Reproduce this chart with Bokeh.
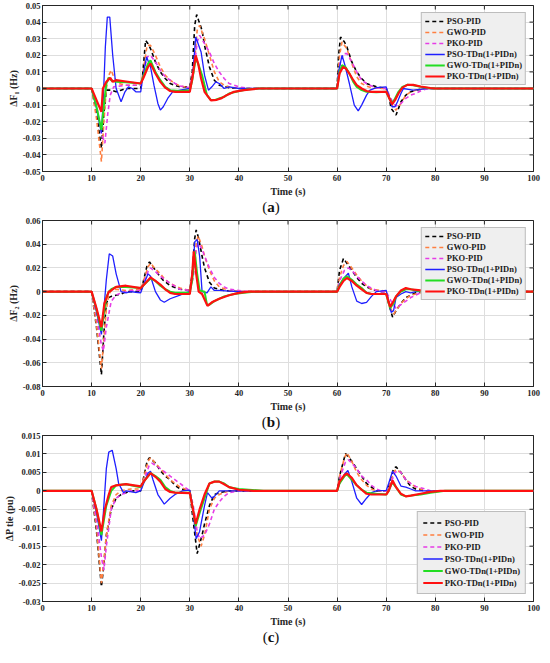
import math
from bokeh.plotting import figure
from bokeh.models import Range1d, FixedTicker, CustomJSTickFormatter, Div
from bokeh.layouts import column
from bokeh.embed import file_html
from bokeh.resources import INLINE

FONT = "Liberation Serif"

# ---------------- data ----------------
X_TICKS = [0, 10, 20, 30, 40, 50, 60, 70, 80, 90, 100]
A_TICKS = [-0.05, -0.04, -0.03, -0.02, -0.01, 0, 0.01, 0.02, 0.03, 0.04, 0.05]
B_TICKS = [-0.08, -0.06, -0.04, -0.02, 0, 0.02, 0.04, 0.06]
C_TICKS = [-0.03, -0.025, -0.02, -0.015, -0.01, -0.005, 0, 0.005, 0.01, 0.015]

NAMES = ["PSO-PID", "GWO-PID", "PKO-PID", "PSO-TDn(1+PIDn)", "GWO-TDn(1+PIDn)", "PKO-TDn(1+PIDn)"]

# Panel (a): delta F1 (Hz), (time, value)
A_PSO_PID = [(0,0),(10,0),(11,-0.015),(12,-0.036),(12.5,-0.015),(13,-0.001),(14,-0.001),(15,-0.002),(16,-0.001),(17,0),(20,0),(20.3,0.005),(21,0.029),(21.5,0.027),(22,0.024),(23,0.016),(24,0.01),(25,0.006),(26,0.003),(27,0.0018),(28,0.001),(30,0.001),(30.5,0.01),(31,0.038),(31.4,0.0445),(31.8,0.041),(32.5,0.035),(33,0.026),(34,0.013),(35,0.005),(36,0.002),(38,0.0005),(40,0),(60,0),(60.3,0.02),(60.7,0.031),(61.5,0.028),(62,0.025),(63,0.016),(64,0.01),(65,0.006),(66,0.003),(67,0.002),(68,0.001),(70,0),(70.5,-0.004),(71,-0.012),(72,-0.016),(73,-0.008),(74,-0.004),(75,-0.002),(76,-0.001),(78,0),(100,0)]
A_GWO_PID = [(0,0),(10,0),(11,-0.018),(12,-0.044),(12.5,-0.02),(13,0),(13.5,0.008),(14,0.011),(14.5,0.007),(15.5,0.003),(17,0.002),(20,0.002),(20.5,0.01),(21.3,0.026),(22,0.026),(23,0.02),(24,0.013),(25,0.008),(26,0.005),(27,0.003),(28,0.0015),(30,0.0005),(30.8,0.01),(31.5,0.035),(32,0.038),(33,0.03),(34,0.02),(35,0.01),(36,0.004),(37,0.002),(38,0.001),(40,0),(60,0),(60.5,0.02),(61,0.028),(62,0.024),(63,0.015),(64,0.007),(65,0.003),(66,0.0015),(67,0.0005),(69,0),(70,0),(70.7,-0.006),(71.3,-0.011),(72,-0.013),(73,-0.009),(74,-0.004),(75,-0.002),(76,-0.001),(78,0),(100,0)]
A_PKO_PID = [(0,0),(10,0),(11,-0.01),(12,-0.027),(12.7,-0.033),(13.3,-0.015),(13.8,-0.004),(14.5,0.001),(17,0.002),(20,0.002),(20.5,0.008),(21.3,0.019),(22,0.02),(23,0.016),(24,0.011),(25,0.007),(26,0.005),(27,0.003),(28,0.0015),(29,0.001),(30,0.0005),(31,0.015),(31.5,0.028),(32,0.032),(33,0.027),(34,0.022),(35,0.015),(36,0.01),(37,0.006),(38,0.003),(40,0.001),(42,0),(60,0),(60.6,0.015),(61.3,0.021),(62,0.021),(63,0.016),(64,0.01),(65,0.005),(66,0.003),(67,0.0015),(68,0.0005),(69,0),(70,0),(70.8,-0.005),(71.5,-0.009),(72,-0.0105),(73,-0.009),(74,-0.006),(75,-0.004),(76,-0.003),(77,-0.0015),(78,-0.0005),(79,0),(100,0)]
A_PSO_TDN = [(0,0),(10,0),(11,-0.012),(12,-0.027),(12.4,-0.005),(12.8,0.025),(13.2,0.043),(13.7,0.043),(14.3,0.02),(15,0),(16,-0.008),(16.8,-0.002),(17.5,0.001),(18.3,0),(19,-0.002),(20,-0.002),(20.5,0.008),(21.2,0.019),(22,0.013),(22.7,0.002),(23.5,-0.009),(24,-0.013),(24.6,-0.011),(25.5,-0.006),(26.5,-0.002),(28,-0.001),(30,0),(30.5,0.005),(31.2,0.031),(31.7,0.027),(32.3,0.022),(33,0.008),(33.8,-0.001),(34.5,0.001),(35.3,0.004),(36,0.003),(37,0),(38,0.001),(40,0),(60,0),(60.3,0.01),(61,0.02),(61.6,0.014),(62.5,0.003),(63.5,-0.01),(64.3,-0.0135),(65,-0.01),(66,-0.004),(66.7,-0.001),(68,0.0005),(70,0.001),(70.5,-0.004),(71.2,-0.011),(71.8,-0.011),(72.3,-0.008),(73,-0.003),(73.5,0),(74.5,-0.0005),(75.5,-0.001),(77,-0.0005),(78,0),(100,0)]
A_GWO_TDN = [(0,0),(10,0),(11,-0.011),(12,-0.025),(12.5,-0.01),(13,0.003),(13.5,0.0065),(14,0.005),(15,0.004),(17,0.0038),(20,0.003),(20.5,0.007),(21.5,0.015),(22,0.017),(23,0.01),(24,0.005),(25,0.001),(26,-0.001),(28,-0.0015),(30,-0.001),(30.5,0.005),(31.2,0.018),(31.7,0.015),(32.5,0.008),(33.5,-0.004),(34.3,-0.007),(35,-0.007),(36,-0.006),(37,-0.005),(38,-0.003),(40,-0.0015),(42,-0.0005),(44,0),(60,0),(60.5,0.01),(61,0.014),(61.7,0.013),(62.5,0.009),(63.3,0.004),(64,0.001),(65,-0.001),(66,-0.002),(68,-0.0022),(70,-0.002),(70.5,-0.005),(71.2,-0.009),(71.8,-0.006),(72.5,-0.002),(73.3,0.001),(74.3,0.0022),(75.5,0.002),(77,0.001),(78.5,0.0003),(80,0),(100,0)]
A_PKO_TDN = [(0,0),(10,0),(11,-0.007),(12,-0.014),(12.3,0),(13,0.004),(13.8,0.0065),(14.3,0.004),(15,0.005),(17,0.0042),(20,0.003),(20.5,0.006),(21.5,0.013),(22,0.015),(23,0.009),(24,0.004),(25,0.0005),(26,-0.0015),(27,-0.002),(30,-0.002),(30.5,0.006),(31.2,0.02),(31.7,0.015),(32.3,0.006),(33,-0.002),(34.3,-0.0072),(35.5,-0.0068),(36.5,-0.0058),(37.5,-0.004),(39,-0.002),(41,-0.001),(44,0),(60,0),(60.5,0.009),(61.2,0.013),(61.8,0.012),(62.5,0.009),(63.3,0.005),(64,0.002),(65,0),(66,-0.0015),(67,-0.002),(70,-0.002),(70.5,-0.005),(71.2,-0.0095),(71.8,-0.007),(72.5,-0.003),(73.3,0.0005),(74.3,0.0022),(75.5,0.0022),(77,0.0012),(79,0.0003),(80,0),(100,0)]

# Panel (b): delta F2 (Hz)
B_PSO_PID = [(0,0),(10,0),(11,-0.03),(12,-0.07),(12.5,-0.035),(13,-0.01),(13.5,-0.005),(14,-0.004),(15,-0.003),(16,-0.002),(17,0),(20,0),(20.5,0.008),(21.3,0.022),(21.8,0.025),(22.5,0.021),(23.5,0.015),(24.5,0.01),(26,0.005),(28,0.002),(30,0.001),(30.5,0.015),(31,0.045),(31.3,0.052),(31.8,0.045),(32.5,0.03),(33,0.02),(34,0.008),(35,0.003),(37,0.001),(40,0),(60,0),(60.5,0.018),(61.3,0.028),(62,0.024),(63,0.018),(64,0.012),(65,0.007),(66,0.004),(67,0.002),(68,0.001),(69,0),(70,0),(70.5,-0.01),(71.3,-0.0215),(72,-0.016),(73,-0.01),(74,-0.005),(75,-0.003),(76,-0.001),(78,0),(100,0)]
B_GWO_PID = [(0,0),(10,0),(11,-0.028),(12,-0.065),(12.5,-0.04),(13,-0.015),(13.5,-0.003),(14,0.001),(15,0.002),(17,0.001),(20,0.002),(20.5,0.008),(21.5,0.021),(22,0.024),(23,0.019),(24,0.015),(25,0.01),(26,0.007),(28,0.003),(30,0.001),(30.7,0.015),(31.3,0.04),(31.7,0.047),(32.5,0.038),(33,0.03),(34,0.018),(35,0.009),(36,0.004),(38,0.001),(40,0),(60,0),(60.5,0.012),(61.3,0.022),(62,0.0255),(63,0.02),(64,0.014),(65,0.009),(66,0.005),(67,0.002),(69,0.001),(70,0),(70.5,-0.007),(71,-0.015),(71.5,-0.019),(72,-0.016),(73,-0.01),(74,-0.006),(75,-0.003),(77,-0.001),(78,0),(100,0)]
B_PKO_PID = [(0,0),(10,0),(11,-0.02),(12,-0.045),(12.4,-0.05),(13,-0.03),(14,-0.008),(15,-0.003),(16,-0.001),(18,0.001),(20,0.001),(20.6,0.007),(21.5,0.017),(22,0.02),(23,0.017),(24,0.013),(26,0.007),(28,0.002),(30,0.001),(30.7,0.012),(31.3,0.035),(31.7,0.041),(32.5,0.036),(33,0.03),(34,0.02),(35,0.012),(36,0.007),(37,0.004),(38,0.002),(40,0.001),(42,0),(60,0),(60.6,0.01),(61.5,0.018),(62.3,0.02),(63,0.018),(64,0.013),(65,0.009),(66,0.005),(67,0.003),(68,0.001),(69,0),(70,0),(71,-0.008),(72,-0.014),(73,-0.011),(74,-0.008),(75,-0.005),(76,-0.003),(77,-0.001),(78,0),(100,0)]
B_PSO_TDN = [(0,0),(10,0),(11,-0.017),(12,-0.036),(12.5,-0.015),(13,0.01),(13.6,0.032),(14.3,0.03),(15,0.015),(16,0),(17,-0.001),(18,0),(19,-0.0005),(20,-0.001),(20.6,0.006),(21.5,0.015),(22,0.013),(23,0),(24,-0.007),(24.8,-0.009),(26,-0.006),(28,-0.003),(29,-0.001),(30,0),(30.5,0.01),(31,0.042),(31.5,0.044),(32,0.03),(32.5,0),(33.5,-0.001),(34.3,0.004),(35,0.001),(36,0.001),(38,0.0005),(40,0),(60,0),(60.5,0.006),(61.5,0.012),(62.3,0.0155),(63,0.004),(64,-0.008),(65,-0.01),(66,-0.009),(67,-0.004),(68,0),(70,0.001),(70.5,-0.008),(71,-0.0175),(71.5,-0.016),(72,-0.005),(73,-0.002),(74,0),(75,-0.001),(76,0),(100,0)]
B_GWO_TDN = [(0,0),(10,0),(11,-0.015),(12,-0.033),(12.5,-0.018),(13,-0.005),(13.5,0),(14,0.002),(15,0.004),(17,0.004),(20,0.003),(20.7,0.006),(22,0.011),(23,0.009),(24,0.005),(25,0.002),(26,0),(27,-0.001),(30,-0.001),(30.5,0.01),(31,0.034),(31.5,0.015),(32,0.001),(33,0),(33.5,-0.011),(34,-0.011),(35,-0.008),(37,-0.004),(39,-0.002),(41,-0.001),(43,0),(60,0),(60.5,0.005),(61.3,0.011),(62,0.013),(63,0.01),(64,0.006),(65,0.003),(66,-0.001),(67,-0.002),(70,-0.002),(70.8,-0.014),(71.5,-0.01),(72,-0.004),(73,0),(74,0.002),(75,0.002),(76,0.001),(78,0),(100,0)]
B_PKO_TDN = [(0,0),(10,0),(11,-0.014),(12,-0.03),(12.6,-0.01),(13.5,0),(14,0.001),(15,0.004),(17,0.005),(20,0.003),(20.7,0.006),(22,0.012),(23,0.009),(24,0.006),(25,0.002),(26,-0.001),(27,-0.002),(30,-0.002),(30.5,0.015),(30.8,0.034),(31.3,0.015),(31.8,0),(32.5,-0.002),(33.6,-0.012),(34.5,-0.009),(36,-0.006),(38,-0.003),(40,-0.001),(42,0),(60,0),(60.5,0.004),(61.3,0.009),(62,0.0115),(63,0.009),(64,0.005),(65,0.002),(66,-0.001),(67,-0.002),(70,-0.002),(70.8,-0.013),(71.5,-0.008),(72,-0.004),(73,0.001),(74,0.003),(75,0.002),(77,0.001),(79,0),(100,0)]

# Panel (c): delta P tie (pu)
C_PSO_PID = [(0,0),(10,0),(11,-0.011),(12,-0.026),(12.5,-0.02),(13,-0.012),(14,-0.005),(15,-0.002),(16,-0.001),(17,-0.0005),(18,0),(20,0),(20.5,0.003),(21.3,0.008),(21.8,0.009),(23,0.0075),(24,0.0055),(25,0.004),(26,0.003),(27,0.0015),(28,0.0005),(30,0),(30.5,-0.006),(31.5,-0.017),(32.5,-0.012),(33,-0.009),(34,-0.004),(35,-0.001),(36,-0.0005),(38,0),(60,0),(60.5,0.004),(61.7,0.0101),(63,0.008),(64,0.006),(65,0.004),(66,0.002),(67,0.001),(68,0),(70,0),(70.5,0.001),(71.5,0.006),(72,0.0065),(73,0.005),(74,0.003),(75,0.0012),(76,0.0005),(78,0),(100,0)]
C_GWO_PID = [(0,0),(10,0),(11,-0.01),(12,-0.025),(12.5,-0.019),(13,-0.012),(14,-0.004),(15,-0.001),(16,0),(18,0.0005),(20,0.0005),(20.5,0.003),(21.5,0.008),(22,0.009),(23,0.0075),(24,0.006),(26,0.003),(28,0.001),(30,0),(30.5,-0.004),(31.5,-0.012),(32.3,-0.015),(33,-0.012),(34,-0.005),(35,-0.002),(36,-0.001),(38,0),(60,0),(60.5,0.004),(61.5,0.009),(62,0.0103),(63,0.008),(64,0.005),(65,0.003),(66,0.0015),(67,0.0005),(68,0),(70,0),(70.6,0.001),(71.5,0.005),(72,0.0058),(73,0.005),(74,0.003),(75,0.002),(76,0.001),(78,0),(100,0)]
C_PKO_PID = [(0,0),(10,0),(11,-0.008),(12,-0.018),(12.5,-0.0215),(13,-0.015),(14,-0.005),(15,-0.002),(16,-0.001),(17,-0.0005),(18,0),(20,0),(20.7,0.003),(21.7,0.0068),(22.3,0.0075),(24,0.006),(26,0.004),(28,0.002),(29,0.001),(30,0),(30.7,-0.004),(31.5,-0.011),(32,-0.013),(33,-0.012),(34,-0.009),(35,-0.005),(36,-0.003),(37,-0.0015),(38,-0.0005),(40,0),(60,0),(60.7,0.004),(61.7,0.0078),(62.3,0.0084),(63,0.0075),(64,0.006),(65,0.004),(66,0.003),(67,0.0015),(68,0.0005),(69,0),(70,0),(70.7,0.001),(71.7,0.0048),(72.3,0.0055),(73,0.005),(74,0.003),(75,0.002),(76,0.0012),(78,0.0005),(79,0),(100,0)]
C_PSO_TDN = [(0,0),(10,0),(11,-0.006),(12,-0.0135),(12.5,-0.004),(13,0.006),(13.5,0.0105),(14.2,0.011),(15,0.006),(15.5,0.002),(16.5,-0.0005),(17,0),(19,-0.0005),(20,0),(20.6,0.002),(21.5,0.0048),(22,0.0053),(22.5,0.003),(23.5,-0.001),(24.8,-0.0036),(26,-0.002),(27,-0.001),(28.5,0),(30,0.0002),(30.5,-0.004),(31.3,-0.013),(32,-0.011),(33,-0.004),(33.6,-0.0005),(34.5,-0.002),(35,-0.0015),(36,0),(40,0),(60,0),(60.5,0.002),(61.5,0.0045),(62.2,0.0055),(63,0.0025),(64,-0.002),(65,-0.0037),(66,-0.002),(67,-0.0005),(68,0),(70,0.0001),(70.5,0.002),(71.3,0.0053),(72,0.004),(73,0.0013),(74,0.001),(75,0.0005),(76,0),(100,0)]
C_GWO_TDN = [(0,0),(10,0),(11,-0.005),(12,-0.012),(12.5,-0.008),(13,-0.004),(14,0),(15,0.0015),(17,0.0018),(18,0.0015),(20,0.001),(20.6,0.0025),(22,0.0048),(23,0.004),(24,0.003),(25,0.001),(26,0),(27,-0.0005),(30,-0.0005),(30.5,-0.004),(31.2,-0.0095),(32,-0.006),(33,-0.002),(34,0.002),(35,0.0025),(36,0.0025),(37,0.002),(38,0.001),(40,0.0005),(42,0.0003),(45,0),(60,0),(60.5,0.002),(61.5,0.004),(62,0.0045),(63,0.003),(64,0.0015),(65,0.0003),(66,-0.0005),(68,-0.0008),(70,-0.001),(70.5,0),(71.2,0.0023),(72,0.001),(73,-0.001),(74,-0.0015),(75,-0.0013),(77,-0.001),(79,-0.0005),(82,0),(100,0)]
C_PKO_TDN = [(0,0),(10,0),(11,-0.005),(12,-0.011),(12.7,-0.005),(13.5,-0.001),(14,0.001),(15,0.0015),(17,0.0018),(20,0.0012),(20.6,0.0025),(22,0.0048),(23,0.0038),(24,0.0025),(25,0.0005),(26,-0.0003),(27,-0.0005),(30,-0.0006),(30.5,-0.004),(31.2,-0.009),(32,-0.005),(33,-0.001),(34,0.002),(35,0.0025),(36,0.0025),(37,0.0018),(38,0.001),(40,0.0003),(43,0),(60,0),(60.5,0.0025),(61.5,0.0043),(62,0.0047),(63,0.0035),(64,0.0015),(65,0.0003),(66,-0.0008),(67,-0.001),(70,-0.001),(70.5,0),(71.3,0.0028),(72,0.001),(73,-0.0008),(74,-0.0015),(75,-0.0013),(77,-0.0008),(79,-0.0003),(81,0),(100,0)]

# ---------------- styling ----------------
COLORS = ["#000000", "#ff7f40", "#e63ce6", "#1f1fff", "#22dd22", "#ff1010"]
DASHES = ["4 3", "4 3", "4 3", "solid", "solid", "solid"]
WIDTHS = [1.6, 1.6, 1.6, 1.3, 2.0, 2.2]

W = 542
H = 199
CAP_H = 16
AX_COL = "#262626"


def make_panel(series, ylo, yhi, yticks, ylabel, legend_loc, lab_h, spacing, pad):
    p = figure(width=W, height=H, x_range=Range1d(0, 100), y_range=Range1d(ylo, yhi),
               output_backend="svg", toolbar_location=None,
               min_border_top=5, min_border_right=9, min_border_left=0, min_border_bottom=0)
    p.background_fill_color = "white"
    p.border_fill_color = "white"
    p.outline_line_color = AX_COL
    p.outline_line_width = 1

    fmt = CustomJSTickFormatter(code="return String(parseFloat(tick.toFixed(4)));")
    xt = FixedTicker(ticks=X_TICKS)
    yt = FixedTicker(ticks=yticks)

    for ax, tk in ((p.xaxis[0], xt), (p.yaxis[0], yt)):
        ax.ticker = tk
        ax.formatter = fmt
        ax.major_tick_in = 4
        ax.major_tick_out = 0
        ax.minor_tick_line_color = None
        ax.axis_line_color = AX_COL
        ax.major_tick_line_color = AX_COL
        ax.major_label_text_font = FONT
        ax.major_label_text_font_style = "bold"
        ax.major_label_text_font_size = "8.5px"
        ax.major_label_text_color = AX_COL
        ax.axis_label_text_font = FONT
        ax.axis_label_text_font_style = "bold"
        ax.axis_label_text_font_size = "10px"
        ax.axis_label_text_color = AX_COL
    p.xaxis.major_label_standoff = 3
    p.xaxis.axis_label_standoff = 2
    p.yaxis.major_label_standoff = 2
    p.yaxis.axis_label_standoff = 1
    p.xaxis.axis_label = "Time (s)"
    p.yaxis.axis_label = ylabel

    p.xgrid.ticker = xt
    p.ygrid.ticker = yt
    p.xgrid.grid_line_color = "#dedede"
    p.ygrid.grid_line_color = "#dedede"

    # inward ticks on the top and right edges of the box (clipped to the frame)
    p.scatter([100] * len(yticks), yticks, marker="dash", size=8,
              line_color=AX_COL, line_width=1)
    p.scatter(X_TICKS, [yhi] * len(X_TICKS), marker="dash", size=8, angle=math.pi / 2,
              line_color=AX_COL, line_width=1)

    for pts, name, col, dash, lw in zip(series, NAMES, COLORS, DASHES, WIDTHS):
        ts = [q[0] for q in pts]
        vs = [q[1] for q in pts]
        p.line(ts, vs, line_color=col, line_dash=dash, line_width=lw, legend_label=name)

    lg = p.legend[0]
    lg.location = legend_loc
    lg.margin = 7
    lg.background_fill_color = "#efefef"
    lg.background_fill_alpha = 1
    lg.border_line_color = "#8c8c8c"
    lg.border_line_width = 1
    lg.label_text_font = FONT
    lg.label_text_font_style = "bold"
    lg.label_text_font_size = "8.5px"
    lg.label_text_color = "#1a1a1a"
    lg.glyph_width = 20
    lg.glyph_height = lab_h
    lg.label_height = lab_h
    lg.label_standoff = 2
    lg.spacing = spacing
    lg.padding = pad
    return p


def caption(letter):
    return Div(text="(<b>%s</b>)" % letter, width=W, height=CAP_H, margin=(0, 0, 0, 0),
               styles={"text-align": "center", "font-family": FONT, "font-size": "15px",
                       "color": "#111111", "line-height": "%dpx" % CAP_H})


pa = make_panel([A_PSO_PID, A_GWO_PID, A_PKO_PID, A_PSO_TDN, A_GWO_TDN, A_PKO_TDN],
                -0.05, 0.05, A_TICKS, "ΔF₁ (Hz)", "top_right", 8, 1, 3)
pb = make_panel([B_PSO_PID, B_GWO_PID, B_PKO_PID, B_PSO_TDN, B_GWO_TDN, B_PKO_TDN],
                -0.08, 0.06, B_TICKS, "ΔF₂ (Hz)", "top_right", 8, 1, 3)
pc = make_panel([C_PSO_PID, C_GWO_PID, C_PKO_PID, C_PSO_TDN, C_GWO_TDN, C_PKO_TDN],
                -0.03, 0.015, C_TICKS, "ΔP tie (pu)", "bottom_right", 11, 1, 5)

layout = column(pa, caption("a"), pb, caption("b"), pc, caption("c"), spacing=0)

open("out.html", "w").write(file_html(layout, INLINE))
